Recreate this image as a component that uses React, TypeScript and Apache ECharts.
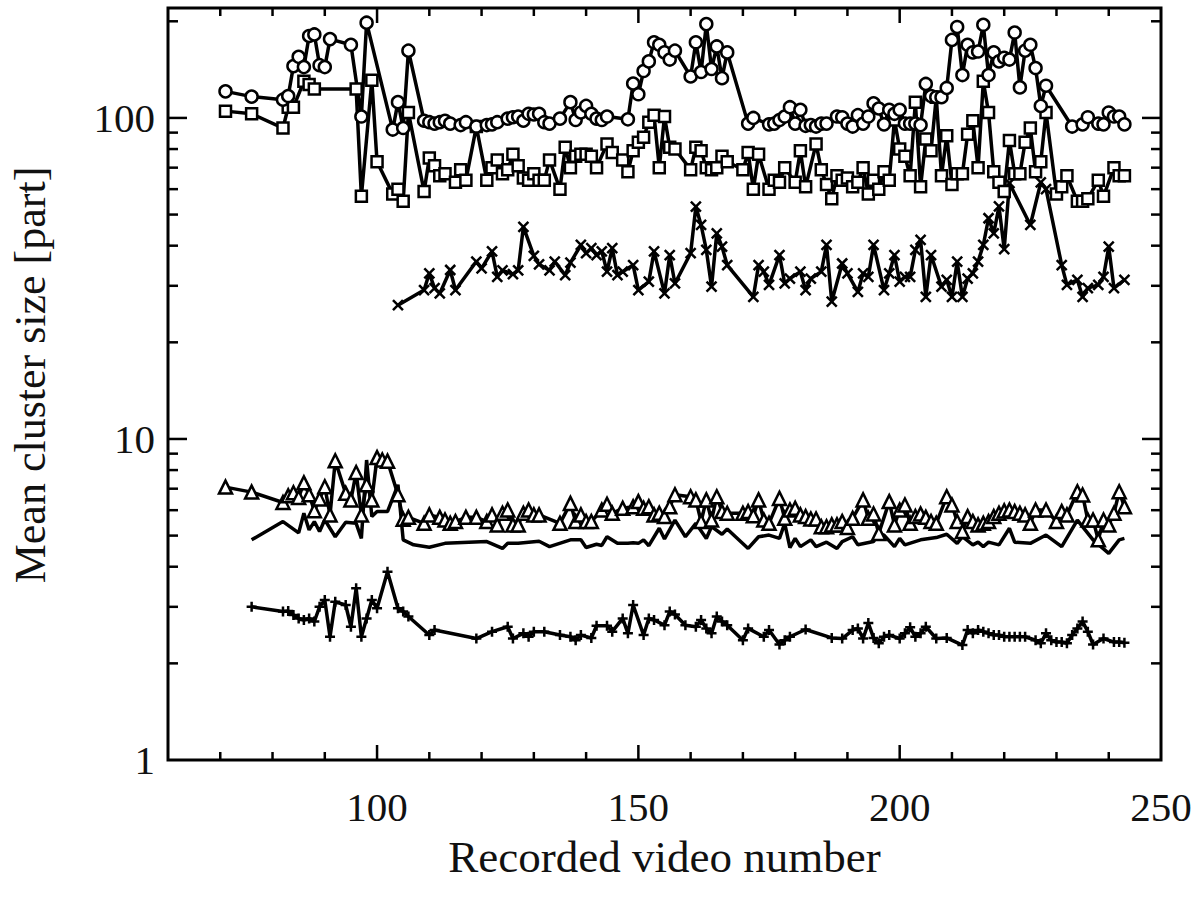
import React, { useEffect, useRef } from "react";
import * as echarts from "echarts";

// ---- Data ----
const circX = [71,76,82,83,84,85,86,87,88,89,90,91,95,97,98,103,104,105,106,109,110,111,112,113,114,116,117,119,121,122,123,125,126,127,128,129,130,131,132,133,135,137,138,139,140,141,142,143,144,148,149,150,151,152,153,154,155,156,157,160,161,162,163,164,165,166,167,171,172,175,176,177,178,179,180,181,182,183,184,185,186,188,189,190,191,192,193,194,195,196,197,198,199,200,201,202,203,204,205,206,207,208,209,210,211,212,213,214,215,216,217,218,219,220,221,222,223,224,225,226,227,228,233,235,236,238,239,240,241,242,243];
const circY = [121,116.5,114,117,145,155,144,180,182,146,144,176,169,101,198,92,112,93,162,98,97,96,97,98,96,95,97,94,95,95.5,97,99.5,100.5,101,98,103,102.5,103,97,96,99.5,112,98.5,104,109,103,99.5,98.5,101,99,128,118.5,140,150,172,169,160,152,162,134.6,172,139,196,142,167,133,160,96,100,95.5,96,98.5,101,108,96,106,94.5,95,94,96,96,101,100.5,96,94,102,96,101,111,107,95.5,106,103,106,96,96,96,95,127.6,117,116,116,124,175,192,136,169,160,161,195,136,160,150,154,152,184.5,124.5,162,169,143,109,126,94,95.5,100.5,96,95.5,104,101,101,95.5];

const sqX = [71,76,82,83,84,86,87,88,96,97,99,100,103,104,105,106,109,110,111,112,113,115,116,117,119,121,122,123,124,125,126,127,128,129,130,131,132,133,135,136,137,138,139,140,141,142,144,145,147,148,149,150,151,152,153,154,155,156,157,160,161,162,163,164,165,166,167,170,171,172,173,175,176,177,178,180,181,182,184,185,186,187,188,189,190,191,192,193,194,195,196,197,198,199,200,201,202,203,204,205,206,207,208,209,210,211,212,213,214,215,216,217,218,219,220,221,222,223,224,225,226,227,228,230,231,232,234,235,236,238,239,241,242,243];
const sqY = [105,103,93,108,108,130,127,123,123,57,131,73,58,60,55,104,59,75,71,66,67,63,69,64,94,64,70,74,67,69,77,71,65,64,67,64,64,74,60,81,70,76,77,77,76,70,83,78,74,68,79,84,87,97,102,70,101,81,80,69,81,79,70,69,70,76,73,69,78,60,77,60,64,63,70,63,79,61,83,69,62,56,66,64,65,61,63,70,58,64,60,68,64,98.6,80,76,66,112,61,86,79,116,66,88,62,67,67,89,98,70,130,104,68,63,59,85,67,67,84,93,68,73,104,58,61,66,55,55,56,64,57,70,66,66];

const crossX = [104,109,110,111,112,114,115,119,120,122,123,124,126,127,128,130,131,133,134,136,137,139,140,141,142,143,144,145,146,147,149,150,152,153,155,156,157,160,161,162,163,164,165,166,167,172,173,174,175,177,178,179,181,182,183,185,186,187,189,190,192,193,194,195,197,198,199,200,201,202,203,204,205,206,208,209,210,211,212,213,214,215,216,217,218,219,220,221,225,227,228,231,232,234,235,236,238,239,240,241,243];
const crossY = [26.1,29.1,32.8,29.5,28.4,33.6,29.1,35.7,34,38.4,32,33.5,32.6,33.5,45.8,37.2,35,33.5,35.7,32.4,35.4,40.2,37.9,39.3,37.4,38.4,33.2,39.3,32.4,33.2,34.8,29.1,30.9,38.4,28.4,37.4,30.5,37.9,52.9,46.4,38.8,29.8,43.7,39.7,34.8,27.7,34.8,33.2,30.2,37.4,30.5,31.6,33.2,29.1,31.6,33.2,40.2,26.8,35.2,32.8,28.7,32.8,32,40.2,29.1,32.8,37.4,30.9,32,32,38.8,41.7,27.7,37.4,29.8,31.3,27.7,35.7,27.7,31.6,32.8,35.7,40.2,48.7,43.7,53,39,62.6,46.4,63,60,34.8,30.2,31.3,27.7,29.5,30.2,32,39.7,29.5,31.3];

const triX = [71,76,82,83,84,85,86,87,88,89,90,91,92,94,95,96,97,98,99,100,101,102,104,105,106,109,110,112,113,114,115,117,119,121,122,123,124,125,126,127,128,129,130,131,135,137,138,139,140,141,143,144,145,147,149,150,151,152,153,154,155,156,157,160,161,162,163,164,165,166,167,170,171,172,173,174,175,177,178,179,180,181,182,183,184,185,186,187,188,189,190,191,193,194,195,196,198,199,200,201,202,203,204,205,206,207,209,210,211,212,213,214,215,216,217,218,219,220,221,222,223,224,225,226,228,230,231,232,234,235,236,237,238,239,240,241,242,243];
const triY = [7.08,6.83,6.34,6.65,6.8,6.57,7.3,6.7,5.98,6.5,7.1,5.8,8.55,6.77,6.46,7.86,5.8,7.2,6.46,8.75,8.6,8.53,6.7,5.62,5.7,5.46,5.8,5.7,5.59,5.46,5.53,5.7,5.7,5.53,5.8,5.4,5.87,6.01,5.4,5.4,5.87,6.01,5.8,5.8,5.46,6.3,5.53,5.8,5.53,5.53,6.01,6.26,5.87,6.08,6.15,6.38,6.08,6.15,5.8,5.87,5.73,6.15,6.7,6.61,6.46,5.53,6.46,5.59,6.61,5.94,5.87,5.87,5.94,5.77,6.46,5.59,5.46,6.53,5.66,6.01,6.08,5.8,5.73,5.63,5.63,5.33,5.33,5.4,5.4,5.53,5.3,5.66,6.46,5.66,5.84,5.08,6.38,5.4,6.01,6.23,5.46,5.73,5.84,5.7,5.53,5.46,6.61,6.23,5.53,5.15,5.73,5.53,5.4,5.46,5.53,5.73,5.87,5.97,6.01,5.94,5.87,5.8,5.46,6.01,6.01,5.53,5.94,5.8,6.85,6.69,5.59,5.59,4.85,5.59,5.4,5.87,6.85,6.15];

const plainX = [76,82,85,86,87,88,89,90,92,94,96,97,98,99,100,102,104,105,107,110,113,121,124,125,127,131,133,137,139,140,142,143,144,146,148,149,150,151,152,154,155,157,159,161,163,164,166,167,171,173,175,177,178,179,180,181,183,184,186,188,189,191,192,195,196,197,199,200,201,204,207,209,211,212,214,215,216,217,219,221,222,225,228,231,234,237,240,242,243];
const plainY = [4.85,5.53,5.1,5.87,5.21,5.53,5.15,5.6,4.96,5.5,5.46,4.9,8.6,5.73,5.94,5.94,7.2,4.85,4.68,4.6,4.73,4.79,4.56,4.73,4.73,4.8,4.62,4.85,4.85,4.59,4.7,4.66,4.96,4.73,4.73,4.75,4.73,4.85,4.65,5.27,4.88,5.59,4.96,5.46,4.9,5.33,5.05,5.24,4.56,4.96,5.02,4.9,5.46,4.59,4.9,4.62,4.85,4.62,4.77,4.56,4.79,4.96,4.68,4.79,5.08,5.02,4.62,4.9,4.68,4.85,4.93,5.05,4.73,4.96,4.68,4.77,4.62,4.77,4.68,5.27,4.77,4.73,5.02,4.62,5.59,4.85,4.4,4.85,4.9];

const plusX = [76,82,83,84,85,86,87,88,89,90,91,92,94,95,96,97,98,99,100,102,104,105,106,110,111,119,122,125,126,128,129,130,132,135,137,138,139,141,142,144,145,147,148,149,151,152,153,155,156,157,159,161,162,163,164,165,166,167,170,171,174,175,177,178,179,182,187,189,191,192,193,194,195,196,197,198,200,201,202,203,204,205,207,209,212,213,214,215,216,217,218,219,220,221,222,223,224,226,227,228,229,230,231,232,233,234,235,236,237,239,241,242,243];
const plusY = [3.0,2.9,2.91,2.83,2.76,2.73,2.76,2.7,3.0,3.15,2.42,3.11,3.04,2.6,3.43,2.42,2.76,3.15,2.97,3.86,2.97,2.9,2.8,2.45,2.54,2.39,2.51,2.6,2.39,2.48,2.42,2.51,2.51,2.45,2.42,2.36,2.45,2.4,2.62,2.62,2.51,2.76,2.48,3.04,2.45,2.76,2.73,2.63,2.9,2.84,2.63,2.6,2.73,2.57,2.48,2.8,2.7,2.63,2.36,2.57,2.42,2.54,2.29,2.36,2.42,2.55,2.4,2.39,2.54,2.57,2.39,2.67,2.4,2.31,2.42,2.45,2.39,2.48,2.59,2.42,2.48,2.6,2.39,2.4,2.28,2.54,2.48,2.54,2.51,2.48,2.45,2.45,2.42,2.42,2.42,2.42,2.42,2.36,2.31,2.48,2.36,2.33,2.33,2.31,2.45,2.57,2.7,2.51,2.29,2.39,2.33,2.33,2.32];

// Axis ticks / labels
const xLabelValues = [100, 150, 200, 250];
const xMajorTicks = [100, 150, 200];
const xMinorTicks = [70, 80, 90, 110, 120, 130, 140, 160, 170, 180, 190, 210, 220, 230, 240];
const yLabelValues = [1, 10, 100];
const yMajorTicks = [10, 100];
const yMinorTicks = [2, 3, 4, 5, 6, 7, 8, 9, 20, 30, 40, 50, 60, 70, 80, 90, 200];

const FONT = "'Liberation Serif', 'DejaVu Serif', serif";

function pairs(xs: number[], ys: number[]) {
  return xs.map((x, i) => [x, ys[i]]);
}

export default function App() {
  const ref = useRef<HTMLDivElement>(null);
  useEffect(() => {
    if (!ref.current) return;
    const chart = echarts.init(ref.current, undefined, { renderer: "svg" });

    const tickData: number[][] = [];
    yMajorTicks.forEach((v) => tickData.push([70, v, 0, 19]));
    yMinorTicks.forEach((v) => tickData.push([70, v, 0, 10]));
    xMajorTicks.forEach((v) => tickData.push([v, 2, 1, 15]));
    xMinorTicks.forEach((v) => tickData.push([v, 2, 1, 8]));

    const lineBase = (name: string, data: number[][], symbol: string, size: number) => ({
      name,
      type: "line",
      data,
      symbol,
      symbolSize: size,
      showSymbol: symbol !== "none",
      lineStyle: { color: "#000", width: 3.5 },
      itemStyle: { color: "#fff", borderColor: "#000", borderWidth: 2.5 },
      silent: true,
      z: 3,
    });

    chart.setOption({
      animation: false,
      backgroundColor: "#fff",
      grid: {
        left: 161,
        right: 39,
        top: 8,
        bottom: 145,
        show: true,
        borderColor: "#000",
        borderWidth: 3,
        backgroundColor: "transparent",
      },
      xAxis: {
        type: "value",
        min: 60,
        max: 250,
        interval: 10,
        axisLine: { show: false },
        axisTick: { show: false },
        splitLine: { show: false },
        axisLabel: {
          formatter: (v: number) => (xLabelValues.includes(Math.round(v)) ? String(Math.round(v)) : ""),
          margin: 26,
          fontSize: 41,
          fontFamily: FONT,
          color: "#111",
        },
        name: "Recorded video number",
        nameLocation: "middle",
        nameGap: 74,
        nameTextStyle: { fontSize: 45, fontFamily: FONT, color: "#111" },
      },
      yAxis: {
        type: "log",
        logBase: 10,
        min: 1,
        max: 220,
        axisLine: { show: false },
        axisTick: { show: false },
        splitLine: { show: false },
        minorTick: { show: false },
        axisLabel: {
          formatter: (v: number) => {
            const r = Math.round(v);
            return yLabelValues.includes(r) && Math.abs(v - r) < 1e-6 ? String(r) : "";
          },
          margin: 13,
          fontSize: 41,
          fontFamily: FONT,
          color: "#111",
        },
        name: "Mean cluster size [part]",
        nameLocation: "middle",
        nameGap: 116,
        nameRotate: 90,
        nameTextStyle: { fontSize: 44, fontFamily: FONT, color: "#111", padding: [0, 0, 0, 18] },
      },
      series: [
        {
          type: "custom",
          silent: true,
          z: 5,
          data: tickData,
          encode: { x: 0, y: 1 },
          renderItem: (params: any, api: any) => {
            const cs = params.coordSys;
            const kind = api.value(2);
            const len = api.value(3);
            const style = { stroke: "#000", lineWidth: 2.5 };
            if (kind === 0) {
              const p = api.coord([70, api.value(1)]);
              return {
                type: "group",
                children: [
                  { type: "line", shape: { x1: cs.x, y1: p[1], x2: cs.x + len, y2: p[1] }, style },
                  { type: "line", shape: { x1: cs.x + cs.width, y1: p[1], x2: cs.x + cs.width - len, y2: p[1] }, style },
                ],
              };
            }
            const p = api.coord([api.value(0), 2]);
            return {
              type: "group",
              children: [
                { type: "line", shape: { x1: p[0], y1: cs.y + cs.height, x2: p[0], y2: cs.y + cs.height - len }, style },
                { type: "line", shape: { x1: p[0], y1: cs.y, x2: p[0], y2: cs.y + len }, style },
              ],
            };
          },
        },
        lineBase("plain", pairs(plainX, plainY), "none", 0),
        lineBase("plus", pairs(plusX, plusY), "path://M5,0L5,10M0,5L10,5", 10),
        lineBase("triangles", pairs(triX, triY), "triangle", 13),
        lineBase("crosses", pairs(crossX, crossY), "path://M0,0L10,10M10,0L0,10", 10),
        lineBase("squares", pairs(sqX, sqY), "rect", 11),
        lineBase("circles", pairs(circX, circY), "circle", 12),
      ],
    });
    return () => chart.dispose();
  }, []);
  return (
    <div
      ref={ref}
      style={{ position: "absolute", left: 0, top: 0, width: 1200, height: 905, background: "#fff" }}
    />
  );
}
